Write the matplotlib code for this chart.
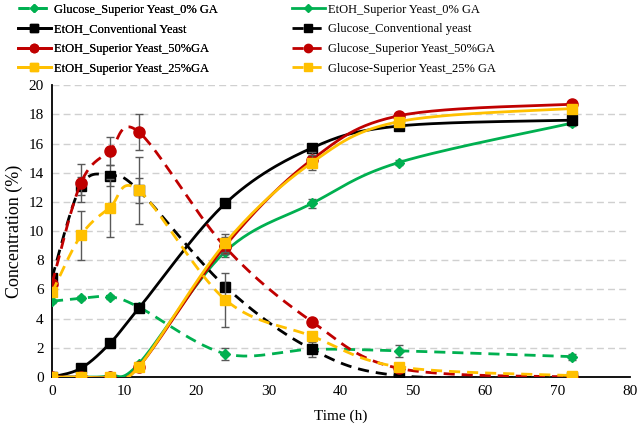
import numpy as np
import matplotlib
matplotlib.use("Agg")
import matplotlib.pyplot as plt

plt.rcParams['font.family'] = ['Liberation Serif', 'DejaVu Serif']

# sampling times (h)
t = [0, 4, 8, 12, 24, 36, 48, 72]

glu_0 = [5.2, 5.4, 5.5, 4.8, 1.6, 1.9, 1.8, 1.4]
glu_0_err = [0.1, 0.15, 0.15, 0.2, 0.4, 0.2, 0.4, 0.2]
etoh_0 = [0.0, 0.0, 0.1, 0.9, 8.6, 11.9, 14.7, 17.4]
etoh_0_err = [0, 0, 0.1, 0.1, 0.4, 0.3, 0.2, 0.2]

etoh_conv = [0.0, 0.6, 2.3, 4.7, 11.9, 15.7, 17.2, 17.6]
etoh_conv_err = [0, 0.1, 0.1, 0.2, 0.2, 0.2, 0.2, 0.2]
glu_conv = [6.8, 13.1, 13.8, 12.8, 6.2, 1.9, 0.1, 0.0]
glu_conv_err = [0.2, 0.6, 0.7, 0.85, 0.3, 0.5, 0.1, 0.0]

etoh_50 = [0.0, 0.0, 0.0, 0.7, 9.0, 14.9, 17.9, 18.7]
etoh_50_err = [0, 0, 0, 0.1, 0.6, 0.5, 0.2, 0.2]
glu_50 = [6.4, 13.3, 15.5, 16.8, 8.9, 3.8, 0.6, 0.0]
glu_50_err = [0.2, 1.3, 0.95, 1.25, 0.5, 0.2, 0.1, 0.0]

etoh_25 = [0.0, 0.0, 0.0, 0.7, 9.2, 14.7, 17.5, 18.4]
etoh_25_err = [0, 0, 0, 0.1, 0.6, 0.5, 0.2, 0.2]
glu_25 = [5.8, 9.7, 11.6, 12.8, 5.3, 2.8, 0.7, 0.1]
glu_25_err = [0.2, 1.7, 2.0, 2.3, 1.85, 0.3, 0.1, 0.0]

green = '#00B050'
red = '#C00000'
yellow = '#FFC000'
black = '#000000'


def excel_smooth(x, y, n=30):
    # bezier smoothing like excel "smoothed line"
    x = np.asarray(x, float)
    y = np.asarray(y, float)
    P = np.column_stack([x, y])
    out = []
    for i in range(len(P) - 1):
        p0 = P[i - 1] if i > 0 else P[i]
        p1 = P[i]
        p2 = P[i + 1]
        p3 = P[i + 2] if i + 2 < len(P) else P[i + 1]
        c1 = p1 + (p2 - p0) / 6.0
        c2 = p2 - (p3 - p1) / 6.0
        s = np.linspace(0, 1, n)[:, None]
        seg = ((1 - s) ** 3) * p1 + 3 * ((1 - s) ** 2) * s * c1 + 3 * (1 - s) * s ** 2 * c2 + s ** 3 * p2
        out.append(seg if i == 0 else seg[1:])
    seg = np.vstack(out)
    return seg[:, 0], seg[:, 1]


fig = plt.figure(figsize=(6.38, 4.28), dpi=100)
ax = fig.add_axes([0.0815, 0.119, 0.9055, 0.682])

series = [
    # label, y, err, color, marker, ms, dashed
    ('Glucose_Superior Yeast_0% GA', glu_0, glu_0_err, green, 'D', 5, True),
    ('EtOH_Superior Yeast_0% GA', etoh_0, etoh_0_err, green, 'D', 5, False),
    ('EtOH_Conventional Yeast', etoh_conv, etoh_conv_err, black, 's', 7.5, False),
    ('Glucose_Conventional yeast', glu_conv, glu_conv_err, black, 's', 7.5, True),
    ('EtOH_Superior Yeast_50%GA', etoh_50, etoh_50_err, red, 'o', 8, False),
    ('Glucose_Superior Yeast_50%GA', glu_50, glu_50_err, red, 'o', 8, True),
    ('EtOH_Superior Yeast_25%GA', etoh_25, etoh_25_err, yellow, 's', 7.5, False),
    ('Glucose-Superior Yeast_25% GA', glu_25, glu_25_err, yellow, 's', 7.5, True),
]

handles = {}
for k, (lab, y, err, col, mk, ms, dashed) in enumerate(series):
    z = 3 + k
    ax.errorbar(t, y, yerr=err, fmt='none', ecolor='#595959', elinewidth=1,
                capsize=3, capthick=1, zorder=z)
    xs, ys = excel_smooth(t, y)
    ls = (0, (4, 2.5)) if dashed else '-'
    ax.plot(xs, ys, color=col, lw=2, linestyle=ls, zorder=z)
    ax.plot(t, y, linestyle='none', marker=mk, ms=ms, color=col, zorder=z)
    handles[lab] = plt.Line2D([], [], color=col, lw=2, linestyle=ls, marker=mk, ms=ms * 0.75)

ax.set_xlim(0, 80)
ax.set_ylim(0, 20)
ax.set_xticks(range(0, 81, 10))
ax.set_yticks(range(0, 21, 2))
ax.tick_params(length=0, labelsize=11, pad=6)
ax.yaxis.grid(True, color='#d0d0d0', linestyle=(0, (5, 3)), lw=1)
ax.set_axisbelow(True)
for s in ['top', 'right']:
    ax.spines[s].set_visible(False)
ax.spines['left'].set_linewidth(1.3)
ax.spines['bottom'].set_linewidth(1.3)
ax.set_xlabel('Time (h)', fontsize=11, labelpad=8)
ax.set_ylabel('Concentration (%)', fontsize=13, labelpad=4)

col1 = ['Glucose_Superior Yeast_0% GA', 'EtOH_Conventional Yeast',
        'EtOH_Superior Yeast_50%GA', 'EtOH_Superior Yeast_25%GA']
col2 = ['EtOH_Superior Yeast_0% GA', 'Glucose_Conventional yeast',
        'Glucose_Superior Yeast_50%GA', 'Glucose-Superior Yeast_25% GA']
leg_kw = dict(loc='upper left', frameon=False, fontsize=9, handlelength=2.6,
              handletextpad=0.3, labelspacing=0.62, borderpad=0, borderaxespad=0)
leg1 = fig.legend([handles[o] for o in col1], col1,
                  bbox_to_anchor=(18 / 638, 1 - 3.5 / 428), **leg_kw)
fig.add_artist(leg1)
fig.legend([handles[o] for o in col2], col2,
           bbox_to_anchor=(292 / 638, 1 - 3.5 / 428), **leg_kw)

fig.savefig('out.png', dpi=100)
